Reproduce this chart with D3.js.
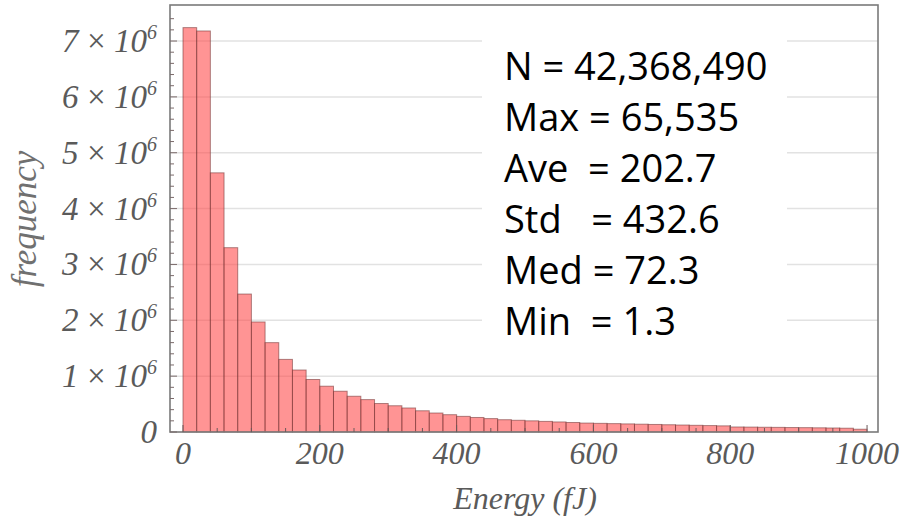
<!DOCTYPE html>
<html>
<head>
<meta charset="utf-8">
<script src="https://cdn.jsdelivr.net/npm/d3@7/dist/d3.min.js"></script>
<style>
  html, body { margin: 0; padding: 0; background: #fff; }
  svg { display: block; }
</style>
</head>
<body>
<svg id="chart" width="904" height="525"></svg>
<script>
// ---- data ----
const binWidth = 20;
const binStarts = d3.range(0, 1000, 20);
const frequencies = [
  7.24e6, 7.18e6, 4.64e6, 3.30e6, 2.47e6, 1.97e6, 1.60e6, 1.30e6, 1.11e6, 0.94e6,
  0.82e6, 0.73e6, 0.64e6, 0.58e6, 0.51e6, 0.47e6, 0.43e6, 0.38e6, 0.34e6, 0.31e6,
  0.28e6, 0.26e6, 0.24e6, 0.22e6, 0.21e6, 0.20e6, 0.19e6, 0.18e6, 0.17e6, 0.16e6,
  0.155e6, 0.15e6, 0.145e6, 0.14e6, 0.135e6, 0.13e6, 0.125e6, 0.12e6, 0.115e6, 0.11e6,
  0.09e6, 0.088e6, 0.085e6, 0.083e6, 0.08e6, 0.078e6, 0.075e6, 0.072e6, 0.068e6, 0.05e6
];
const xTicks = [0, 200, 400, 600, 800, 1000];
const yTicks = [1e6, 2e6, 3e6, 4e6, 5e6, 6e6, 7e6];
const yTickLabels = ["1", "2", "3", "4", "5", "6", "7"];
const statsLines = ["N = 42,368,490", "Max = 65,535", "Ave  = 202.7", "Std   = 432.6", "Med = 72.3", "Min  = 1.3"];
const xTitle = "Energy (fJ)";
const yTitle = "frequency";

// ---- layout ----
const frame = { left: 170, top: 5, right: 878, bottom: 432 };
const svg = d3.select("#chart");

const x = d3.scaleLinear().domain([-19, 1016]).range([frame.left, frame.right]);
const y = d3.scaleLinear().domain([0, 7.645e6]).range([frame.bottom, frame.top]);

const serif = "'Liberation Serif', 'DejaVu Serif', serif";

// gridlines
svg.append("g").selectAll("line").data(yTicks).join("line")
  .attr("x1", frame.left).attr("x2", frame.right)
  .attr("y1", d => y(d)).attr("y2", d => y(d))
  .attr("stroke", "#e2e2e2").attr("stroke-width", 1.5);

// bars
const bins = binStarts.map((s, i) => ({ x0: s, x1: s + binWidth, v: frequencies[i] }));
svg.append("g").selectAll("rect").data(bins).join("rect")
  .attr("x", d => x(d.x0))
  .attr("width", d => x(d.x1) - x(d.x0))
  .attr("y", d => y(d.v))
  .attr("height", d => y(0) - y(d.v))
  .attr("fill", "rgb(255,70,70)").attr("fill-opacity", 0.58)
  .attr("stroke", "rgb(110,50,50)").attr("stroke-opacity", 0.55).attr("stroke-width", 1);

// stats box
svg.append("rect").attr("x", 482).attr("y", 30).attr("width", 305).attr("height", 322).attr("fill", "#fff");
svg.append("g").selectAll("text").data(statsLines).join("text")
  .attr("x", 504)
  .attr("y", (d, i) => 80 + i * 51)
  .attr("font-family", "'Open Sans', 'Liberation Sans', sans-serif")
  .attr("font-size", 38)
  .attr("fill", "#000")
  .style("white-space", "pre")
  .attr("xml:space", "preserve")
  .text(d => d);

// frame
svg.append("rect")
  .attr("x", frame.left).attr("y", frame.top)
  .attr("width", frame.right - frame.left).attr("height", frame.bottom - frame.top)
  .attr("fill", "none").attr("stroke", "#7a7a7a").attr("stroke-width", 1.6);

// y ticks (inward)
const yMinor = d3.range(0, 7.6e6, 2e5);
svg.append("g").selectAll("line").data(yMinor).join("line")
  .attr("x1", frame.left).attr("x2", d => frame.left + (d % 1e6 === 0 ? 7 : 4))
  .attr("y1", d => y(d)).attr("y2", d => y(d))
  .attr("stroke", "#7a6a6a").attr("stroke-width", 1);

// x ticks (inward)
const xMinor = d3.range(0, 1001, 50);
svg.append("g").selectAll("line").data(xMinor).join("line")
  .attr("x1", d => x(d)).attr("x2", d => x(d))
  .attr("y1", frame.bottom).attr("y2", d => frame.bottom - (d % 200 === 0 ? 7 : 4))
  .attr("stroke", "#6a5a5a").attr("stroke-width", 1);

// y tick labels
const yl = svg.append("g");
const yLabs = [{ v: 0, t: null }].concat(yTicks.map((v, i) => ({ v, t: yTickLabels[i] })));
yLabs.forEach(d => {
  const t = yl.append("text")
    .attr("x", 157)
    .attr("y", y(d.v) + 11)
    .attr("text-anchor", "end")
    .attr("font-family", serif).attr("font-style", "italic")
    .attr("font-size", 33).attr("fill", "#5a5a5a");
  if (d.t === null) {
    t.text("0");
  } else {
    t.append("tspan").text(d.t + "\u2009\u00d7\u200910");
    t.append("tspan").attr("font-size", 20).attr("dy", -13).text("6");
  }
});

// x tick labels
svg.append("g").selectAll("text").data(xTicks).join("text")
  .attr("x", d => x(d)).attr("y", 464)
  .attr("text-anchor", "middle")
  .attr("font-family", serif).attr("font-style", "italic")
  .attr("font-size", 32).attr("fill", "#5a5a5a")
  .text(d => d);

// axis titles
svg.append("text")
  .attr("x", (x(0) + x(1000)) / 2).attr("y", 509)
  .attr("text-anchor", "middle")
  .attr("font-family", serif).attr("font-style", "italic")
  .attr("font-size", 32).attr("fill", "#5a5a5a")
  .text(xTitle);

svg.append("text")
  .attr("transform", "translate(36," + 219 + ") rotate(-90)")
  .attr("text-anchor", "middle")
  .attr("font-family", serif).attr("font-style", "italic")
  .attr("font-size", 35).attr("fill", "#707070")
  .text(yTitle);
</script>
</body>
</html>
